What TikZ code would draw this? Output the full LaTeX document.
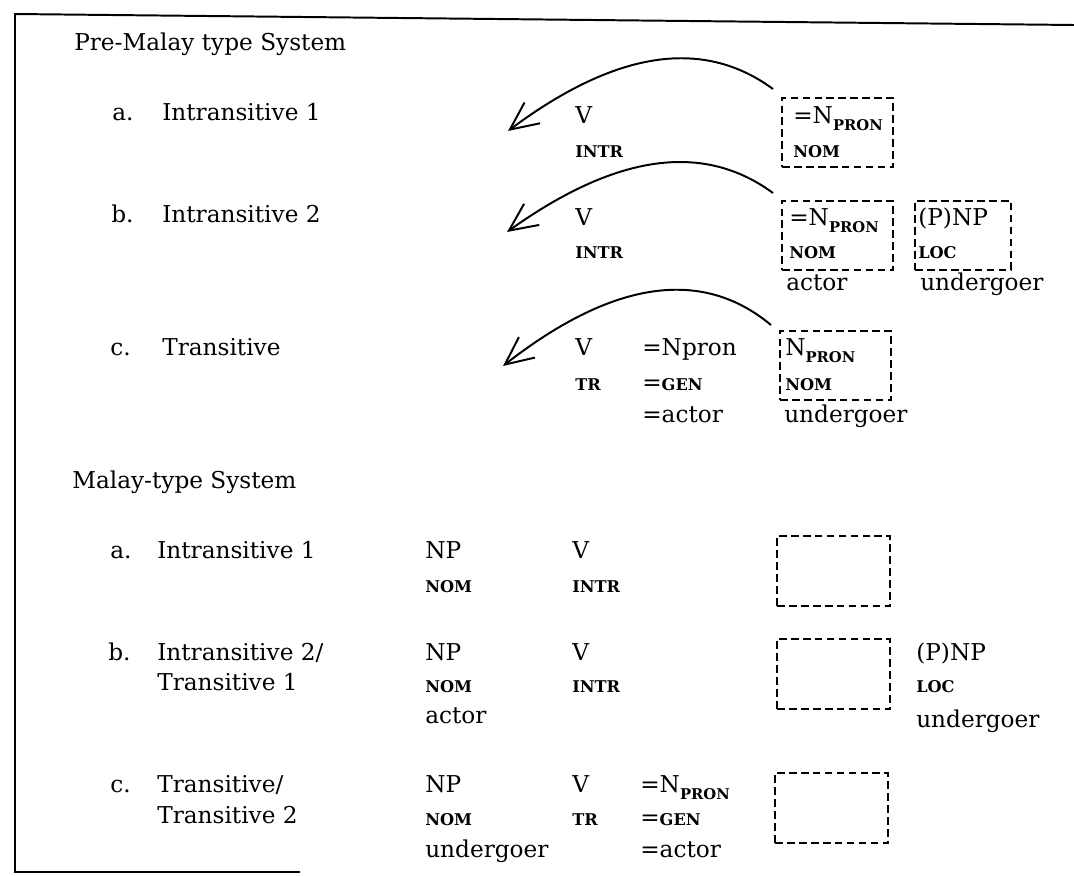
\documentclass[tikz,border=0pt]{standalone}
\usepackage{fontspec}
\setmainfont{DejaVu Serif}
\usetikzlibrary{arrows.meta}
\newcommand\smc[1]{{\fontsize{11.5}{13}\selectfont\bfseries #1}}
\newcommand\lowc[1]{\raisebox{-5pt}{\fontsize{10.5}{12}\selectfont\bfseries #1}}

\begin{document}
\begin{tikzpicture}[x=0.025cm, y=-0.025cm, every node/.style={font=\fontsize{16.5}{19}\selectfont, inner sep=0pt, anchor=base west}]
        \tikzstyle{slot}=[draw, line width=1.4pt, dash pattern=on 5.5pt off 3pt, anchor=north west, minimum width=2.78cm, minimum height=1.72cm]
        \tikzstyle{hook}=[-{Straight Barb[length=7mm, width=6.5mm]}, line width=1.4pt]
        \useasboundingbox (0,0) rectangle (1074,876);
        \draw[line width=1.4pt] (1074,25) -- (15,14) -- (15,872) -- (300,872);
        % Pre-Malay type
        \node (p) at (74,50) {Pre-Malay type System};
        \node (pa) at (112,120) {a.};
        \node (pat) at (162,120) {Intransitive 1};
        \node (pav) at (575,123) {V};
        \node (pas) at (575,157) {\smc{INTR}};
        \node[slot] (pab) at (781,97) {};
        \node (pan) at (793,123) {=N\lowc{PRON}};
        \node (pam) at (793,157) {\smc{NOM}};
        \coordinate (pae) at (508,131);
        \draw[hook] ([shift={(-8,-8)}]pab.north west) .. controls +(-60,-44) and +(122,-91) .. (pae);

        \node (pb) at (111,222) {b.};
        \node (pbt) at (162,222) {Intransitive 2};
        \node (pbv) at (575,225) {V};
        \node (pbs) at (575,258) {\smc{INTR}};
        \node[slot] (pbb) at (781,200) {};
        \node (pbn) at (789,225) {=N\lowc{PRON}};
        \node (pbm) at (789,258) {\smc{NOM}};
        \node[slot, minimum width=2.4cm] (pbl) at (914,200) {};
        \node (pbp) at (918,225) {(P)NP};
        \node (pbc) at (918,258) {\smc{LOC}};
        \node (pba) at (786,290) {actor};
        \node (pbu) at (920,290) {undergoer};
        \coordinate (pbe) at (507,232);
        \draw[hook] ([shift={(-8,-7)}]pbb.north west) .. controls +(-60,-44) and +(123,-88) .. (pbe);

        \node (pc) at (110,355) {c.};
        \node (pct) at (162,355) {Transitive};
        \node (pcv) at (575,355) {V};
        \node (pcs) at (575,390) {\smc{TR}};
        \node (pcn) at (642,355) {=Npron};
        \node (pcg) at (642,390) {=\smc{GEN}};
        \node (pca) at (642,422) {=actor};
        \node[slot] (pcb) at (779,330) {};
        \node (pcp) at (785,355) {N\lowc{PRON}};
        \node (pcm) at (785,390) {\smc{NOM}};
        \node (pcu) at (784,422) {undergoer};
        \coordinate (pce) at (503,366);
        \draw[hook] ([shift={(-8,-5)}]pcb.north west) .. controls +(-60,-50) and +(123,-96) .. (pce);

        % Malay-type
        \node (m) at (72,488) {Malay-type System};
        \node (ma) at (110,558) {a.};
        \node (mat) at (157,558) {Intransitive 1};
        \node (man) at (425,558) {NP};
        \node (mav) at (572,558) {V};
        \node (mam) at (425,592) {\smc{NOM}};
        \node (mas) at (572,592) {\smc{INTR}};
        \node[slot, minimum width=2.83cm, minimum height=1.75cm] (mab) at (776,535) {};

        \node (mb) at (108,660) {b.};
        \node (mbt) at (157,660) {Intransitive 2/};
        \node (mbt2) at (157,690) {Transitive 1};
        \node (mbn) at (425,660) {NP};
        \node (mbv) at (572,660) {V};
        \node (mbm) at (425,692) {\smc{NOM}};
        \node (mbs) at (572,692) {\smc{INTR}};
        \node (mba) at (425,723) {actor};
        \node[slot, minimum width=2.83cm, minimum height=1.75cm] (mbb) at (776,638) {};
        \node (mbp) at (916,660) {(P)NP};
        \node (mbc) at (916,692) {\smc{LOC}};
        \node (mbu) at (916,727) {undergoer};

        \node (mc) at (110,792) {c.};
        \node (mct) at (157,792) {Transitive/};
        \node (mct2) at (157,823) {Transitive 2};
        \node (mcn) at (425,792) {NP};
        \node (mcv) at (572,792) {V};
        \node (mcp) at (640,792) {=N\lowc{PRON}};
        \node (mcm) at (425,825) {\smc{NOM}};
        \node (mcs) at (572,825) {\smc{TR}};
        \node (mcg) at (640,825) {=\smc{GEN}};
        \node (mcu) at (425,857) {undergoer};
        \node (mca) at (640,857) {=actor};
        \node[slot, minimum width=2.83cm, minimum height=1.75cm] (mcb) at (774,772) {};
      \end{tikzpicture}
\end{document}
